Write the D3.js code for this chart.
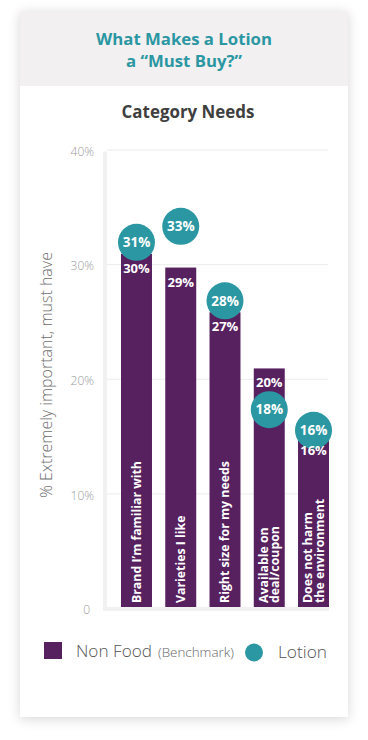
<!DOCTYPE html>
<html>
<head>
<meta charset="utf-8">
<script src="https://cdn.jsdelivr.net/npm/d3@7"></script>
<style>
  html, body { margin: 0; padding: 0; background: #ffffff; }
  svg { display: block; }
</style>
</head>
<body>
<div id="chart"></div>
<script>
// ---- data ----
const categories = [
  ["Brand I\u2019m familiar with"],
  ["Varieties I like"],
  ["Right size for my needs"],
  ["Available on", "deal/coupon"],
  ["Does not harm", "the environment"]
];
const nonFoodValues = [30.9, 29.7, 25.8, 20.9, 15.0];
const nonFoodLabels = ["30%", "29%", "27%", "20%", "16%"];
const lotionValues = [31.9, 33.3, 26.8, 17.3, 15.5];
const lotionLabels = ["31%", "33%", "28%", "18%", "16%"];
const yTickValues = [0, 10, 20, 30, 40];
const yTickLabels = ["0", "10%", "20%", "30%", "40%"];
const titleLines = ["What Makes a Lotion", "a \u201cMust Buy?\u201d"];
const subtitle = "Category Needs";
const yAxisTitle = "% Extremely important, must have";
const legendNames = ["Non Food", "(Benchmark)", "Lotion"];

// ---- style ----
const W = 368, H = 740;
const purple = "#57215f";
const teal = "#2b97a2";
const FONT = "'Open Sans', 'Noto Sans', sans-serif";

const svg = d3.select("#chart").append("svg")
  .attr("width", W).attr("height", H);

const defs = svg.append("defs");
const f = defs.append("filter").attr("id", "shadow")
  .attr("x", "-20%").attr("y", "-20%").attr("width", "140%").attr("height", "140%");
f.append("feDropShadow").attr("dx", 0).attr("dy", 2)
  .attr("stdDeviation", 6).attr("flood-color", "#000").attr("flood-opacity", 0.16);

// card
svg.append("rect").attr("x", 20).attr("y", 11).attr("width", 328).attr("height", 706)
  .attr("fill", "#fff").attr("filter", "url(#shadow)");
svg.append("rect").attr("x", 20).attr("y", 11).attr("width", 328).attr("height", 75)
  .attr("fill", "#f2f0f1");

function fit(sel, target) {
  const node = sel.node();
  const fs = parseFloat(sel.attr("font-size"));
  const w = node.getComputedTextLength();
  if (w > 0) sel.attr("font-size", (fs * target / w).toFixed(2));
  return sel;
}

// titles
const t1 = svg.append("text").attr("x", 184).attr("y", 45).attr("text-anchor", "middle")
  .attr("font-family", FONT).attr("font-weight", 700).attr("font-size", 16)
  .attr("fill", teal).text(titleLines[0]);
fit(t1, 176);
svg.append("text").attr("x", 184).attr("y", 67).attr("text-anchor", "middle")
  .attr("font-family", FONT).attr("font-weight", 700).attr("font-size", t1.attr("font-size"))
  .attr("fill", teal).text(titleLines[1]);
const st = svg.append("text").attr("x", 188).attr("y", 118).attr("text-anchor", "middle")
  .attr("font-family", FONT).attr("font-weight", 700).attr("font-size", 15)
  .attr("fill", "#3f3f3f").text(subtitle);
fit(st, 133);

// scales
const y = d3.scaleLinear().domain([0, 40]).range([608, 149.5]);
const x = d3.scaleBand().domain(d3.range(categories.length))
  .range([121, 329]).paddingInner(0.3).paddingOuter(0);

// gridlines
const grid = svg.append("g").attr("transform", "translate(107,0)")
  .call(d3.axisRight(y).tickValues(yTickValues.filter(v => v > 0)).tickSize(221).tickFormat(""));
grid.select(".domain").remove();
grid.selectAll(".tick line").attr("stroke", "#ececec").attr("stroke-width", 1);

// axis band
svg.append("rect").attr("x", 103).attr("y", y(40) + 2).attr("width", 4)
  .attr("height", y(0) - y(40) + 1).attr("fill", "#f1f1f1");

// y tick labels
const yAx = svg.append("g").attr("transform", "translate(94,2)")
  .call(d3.axisLeft(y).tickValues(yTickValues).tickSize(0).tickPadding(0)
    .tickFormat((d, i) => yTickLabels[i]));
yAx.select(".domain").remove();
yAx.selectAll("text").attr("font-family", FONT).attr("font-weight", 300)
  .attr("font-size", 12).attr("fill", "#9a9a9a");
yAx.selectAll(".tick").filter(d => d === 0).select("text").attr("dx", -4);

// y axis title
const yt = svg.append("text")
  .attr("transform", "translate(52,375) rotate(-90)")
  .attr("text-anchor", "middle")
  .attr("font-family", FONT).attr("font-weight", 300).attr("font-size", 15)
  .attr("fill", "#6e6e6e").text(yAxisTitle);
fit(yt, 246);

// bars
svg.append("g").selectAll("rect").data(nonFoodValues).join("rect")
  .attr("x", (d, i) => x(i)).attr("width", x.bandwidth())
  .attr("y", d => y(d)).attr("height", d => y(0) - y(d))
  .attr("fill", purple);

// bottom axis band
svg.append("rect").attr("x", 103).attr("y", y(0) - 1).attr("width", 226).attr("height", 4)
  .attr("fill", "#f1f1f1");

// category labels (rotated)
const catG = svg.append("g").selectAll("text").data(categories).join("text")
  .attr("transform", (d, i) => `translate(${x(i) + x.bandwidth() / 2},603) rotate(-90)`)
  .attr("font-family", FONT).attr("font-weight", 700).attr("font-size", 11.5)
  .attr("fill", "#fff");
// size from the first (single-line) label's width in the reference
const probe = svg.append("text").attr("font-family", FONT).attr("font-weight", 700)
  .attr("font-size", 11.5).text(categories[0][0]);
fit(probe, 142);
const catFs = +probe.attr("font-size");
probe.remove();
catG.attr("font-size", catFs);
catG.each(function (lines) {
  const t = d3.select(this);
  const n = lines.length;
  lines.forEach((ln, k) => {
    t.append("tspan").attr("x", 0)
      .attr("y", (k - (n - 1) / 2) * 11.5 + catFs * 0.36)
      .text(ln);
  });
});

// lotion circles
const cg = svg.append("g").selectAll("g").data(lotionValues).join("g")
  .attr("transform", (d, i) => `translate(${x(i) + x.bandwidth() / 2},${y(d)})`);
cg.append("circle").attr("r", 18.5).attr("fill", teal);
cg.append("text").attr("text-anchor", "middle").attr("y", 4.7)
  .attr("font-family", FONT).attr("font-weight", 700).attr("font-size", 13.5)
  .attr("fill", "#fff").text((d, i) => lotionLabels[i]);

// bar value labels (on top)
svg.append("g").selectAll("text").data(nonFoodValues).join("text")
  .attr("x", (d, i) => x(i) + x.bandwidth() / 2)
  .attr("y", d => y(d) + 19)
  .attr("text-anchor", "middle")
  .attr("font-family", FONT).attr("font-weight", 700).attr("font-size", 13)
  .attr("fill", "#fff").text((d, i) => nonFoodLabels[i]);

// legend
svg.append("rect").attr("x", 44).attr("y", 642).attr("width", 18).attr("height", 17).attr("fill", purple);
const l1 = svg.append("text").attr("x", 76).attr("y", 657)
  .attr("font-family", FONT).attr("font-weight", 300).attr("font-size", 15)
  .attr("fill", "#555").text(legendNames[0]);
fit(l1, 76);
const l2 = svg.append("text").attr("x", 158).attr("y", 657)
  .attr("font-family", FONT).attr("font-weight", 300).attr("font-size", 10.5)
  .attr("fill", "#666").text(legendNames[1]);
fit(l2, 76);
svg.append("circle").attr("cx", 254).attr("cy", 652.5).attr("r", 9).attr("fill", teal);
const l3 = svg.append("text").attr("x", 278).attr("y", 658)
  .attr("font-family", FONT).attr("font-weight", 300).attr("font-size", 16)
  .attr("fill", "#555").text(legendNames[2]);
fit(l3, 49);
</script>
</body>
</html>
